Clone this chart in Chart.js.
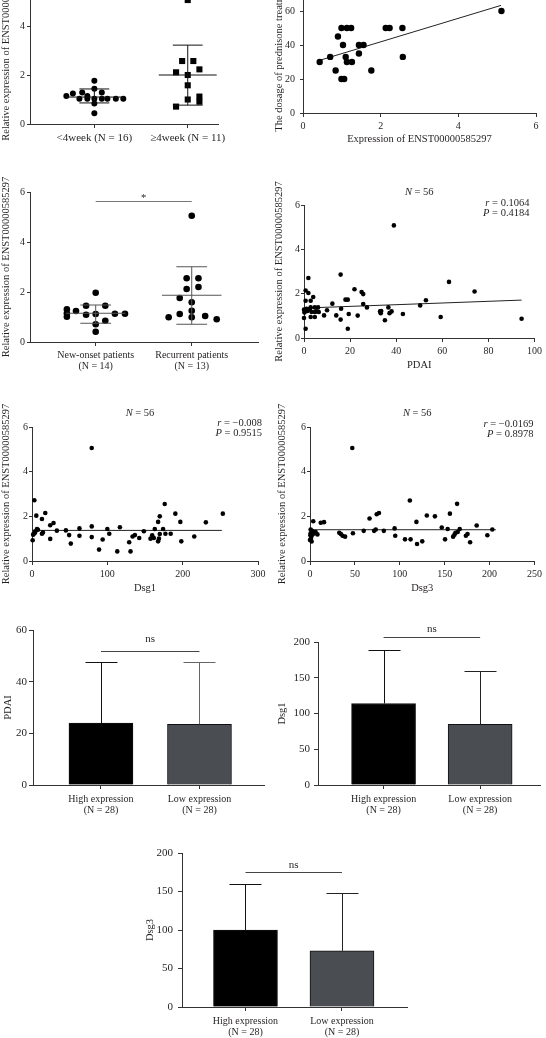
<!DOCTYPE html>
<html><head><meta charset="utf-8">
<script src="https://cdn.jsdelivr.net/npm/chart.js@4.4.1/dist/chart.umd.min.js"></script>
<style>
html,body{margin:0;padding:0;background:#fff;}
body{width:546px;height:1038px;position:relative;overflow:hidden;}
canvas{position:absolute;}
</style></head><body>
<canvas id="c1" width="273" height="185" style="left:0;top:-35px"></canvas>
<canvas id="c2" width="273" height="185" style="left:273px;top:-35px"></canvas>
<canvas id="c3" width="273" height="215" style="left:0;top:160px"></canvas>
<canvas id="c4" width="273" height="215" style="left:273px;top:160px"></canvas>
<canvas id="c5" width="273" height="225" style="left:0;top:375px"></canvas>
<canvas id="c6" width="273" height="225" style="left:273px;top:375px"></canvas>
<canvas id="c7" width="273" height="220" style="left:0;top:605px"></canvas>
<canvas id="c8" width="273" height="220" style="left:273px;top:605px"></canvas>
<canvas id="c9" width="280" height="208" style="left:140px;top:830px"></canvas>
<script>
// ---------------- DATA ----------------
const exprTitle = 'Relative expression of ENST00000585297';

// Panel 1: duration groups
const wkLabels = ['<4week (N = 16)', '\u22654week (N = 11)'];
const wkShortX = [1.0, 1.0, 0.87, 1.08, 0.77, 0.70, 0.925, 0.84, 0.925, 1.0, 1.08, 1.14, 1.23, 1.31, 1.0, 1.0];
const wkShortY = [1.77, 1.44, 1.29, 1.29, 1.25, 1.14, 1.14, 1.03, 1.03, 1.03, 1.03, 1.03, 1.03, 1.03, 0.84, 0.44];
const wkLongX = [2.0, 1.94, 2.06, 2.125, 1.875, 2.0, 2.0, 2.125, 2.0, 2.125, 1.875];
const wkLongY = [5.06, 2.57, 2.57, 2.23, 2.11, 2.0, 1.58, 1.12, 1.0, 0.91, 0.71];
const wkMean = [1.10, 2.00];
const wkHi = [1.43, 3.22];
const wkLo = [0.86, 0.77];

// Panel 2: prednisone dosage vs expression
const doseX = [0.43, 0.70, 0.84, 0.90, 0.99, 1.03, 0.99, 1.06, 1.13, 1.10, 1.13, 1.24, 1.26, 1.44, 1.44, 1.56, 1.76, 2.13, 2.23, 2.56, 2.57, 5.11];
const doseY = [30, 33, 25, 45, 50, 40, 20, 20, 50, 33, 30, 50, 30, 40, 35, 40, 25, 50, 50, 50, 33, 60];
const doseFitX = [0.43, 5.10];
const doseFitY = [31, 63.3];

// Panel 3: new-onset vs recurrent
const onsetLabels = [['New-onset patients', '(N = 14)'], ['Recurrent patients', '(N = 13)']];
const newX = [1.0, 0.90, 1.10, 0.70, 0.70, 0.70, 0.795, 0.90, 1.20, 1.305, 1.10, 1.0, 1.0, 1.0];
const newY = [1.97, 1.45, 1.45, 1.31, 1.15, 1.01, 1.24, 1.09, 1.13, 1.13, 0.85, 0.71, 0.41, 1.12];
const recX = [2.0, 1.947, 2.07, 1.947, 2.07, 1.875, 2.0, 2.0, 1.76, 1.875, 2.0, 2.14, 2.26];
const recY = [5.05, 2.55, 2.55, 2.12, 2.2, 1.76, 1.59, 1.25, 0.99, 1.12, 0.99, 1.04, 0.91];
const onsetMean = [1.15, 1.87];
const onsetHi = [1.48, 3.01];
const onsetLo = [0.75, 0.71];
const onsetSig = 5.64;

// Panel 4: PDAI
const pdaiX = [0,0,0.4,0.7,1.9,1.9,0.7,0.7,2.9,4,2.9,4.7,6.1,1.1,1.9,2.6,3.3,4.7,5.4,6.4,2.9,4.7,8.7,10,12.3,14,15.9,15.9,16.1,18,19,19,19.4,21.9,23.3,25,25.7,25.7,27.3,33,33.3,33.5,35.1,36.6,37.1,38,39,42.9,50.4,52.9,59.3,62.9,74,94.4,0.2,1.5];
const pdaiY = [1.28,0.9,1.2,2.14,2.03,2.71,1.68,0.42,1.68,1.85,1.38,1.38,1.38,1.32,1.28,1.32,1.17,1.17,1.2,1.17,0.95,0.95,1.02,1.25,1.55,1.02,0.83,2.86,1.32,1.73,1.73,0.42,1.08,2.2,1.01,2.07,1.98,1.53,1.38,1.2,1.12,1.22,0.8,1.38,1.12,1.2,5.08,1.08,1.47,1.7,0.95,2.53,2.1,0.87,1.15,1.22];
const pdaiFitX = [0, 94.4];
const pdaiFitY = [1.35, 1.71];
const pdaiStats = ['0.1064', '0.4184'];

// Panel 5: Dsg1
const dsg1X = [0.9,3.1,2.2,4.4,6.6,5.7,7.9,13.2,13.2,14.5,17.6,24.2,24.2,28.6,33,45,49.3,51.5,63,63,79.3,79.3,79.3,89,93.8,100,102.6,113.2,116.7,129,130.8,133.5,136.6,142.3,148.5,157.3,159.5,161.7,163,167.4,167.4,169.6,169.6,174,176.2,177.1,184.1,190.3,196.9,198.2,215.4,230.8,253.3,1.5,4.0,168.5];
const dsg1Y = [0.93,2.72,1.21,1.33,1.43,2.03,1.40,1.88,1.22,1.28,2.15,1.60,0.99,1.70,1.36,1.37,1.16,0.78,1.46,1.13,5.06,1.55,1.07,0.51,0.96,1.43,1.22,0.43,1.51,0.84,0.43,1.10,1.16,1.03,1.33,1.00,1.15,1.03,1.43,1.75,0.88,2.00,1.21,1.43,2.55,1.22,1.22,2.12,1.75,0.88,1.10,1.73,2.12,1.18,1.27,1.0];
const dsg1FitX = [0, 252];
const dsg1FitY = [1.37, 1.37];
const dsg1Stats = ['\u22120.008', '0.9515'];

// Panel 6: Dsg3
const dsg3X = [0,0.7,0.7,1.8,1.8,3.6,3.6,5.4,8.3,12,15.6,32.6,34.4,36.2,39.1,47.1,47.8,59.8,66.3,71.4,73.2,74.3,76.8,82.2,94.2,94.9,105.8,111.2,112,118.5,119.2,125,130.1,139.1,146.7,150.4,153.3,155.8,159.4,160.9,162,163.8,166.7,173.6,175.4,178.3,185.6,197.5,203,1.0,2.2,0.4,2.8,6.2,164.5,4.5];
const dsg3Y = [0.94,1.24,1.41,0.87,1.12,1.78,1.31,1.24,1.19,1.71,1.74,1.26,1.21,1.13,1.09,5.06,1.24,1.35,1.90,1.35,1.41,2.09,2.15,1.35,1.46,1.13,0.97,2.71,0.97,1.75,0.76,0.88,2.04,2.00,1.50,0.97,1.43,2.12,1.09,1.18,1.26,2.56,1.43,1.13,1.21,0.84,1.59,1.15,1.41,1.0,1.35,1.15,1.2,1.3,1.3,1.25];
const dsg3FitX = [0, 207];
const dsg3FitY = [1.40, 1.40];
const dsg3Stats = ['\u22120.0169', '0.8978'];

// Bar panels
const grpLabels = [['High expression', '(N = 28)'], ['Low expression', '(N = 28)']];
const barPdaiMean = [24.0, 23.5];
const barPdaiHi = [47.5, 47.5];
const barPdaiSig = 52;
const barDsg1Mean = [114, 85];
const barDsg1Hi = [189, 159];
const barDsg1Sig = 207;
const barDsg3Mean = [100, 73];
const barDsg3Hi = [160, 148];
const barDsg3Sig = 175;

// ---------------- RENDERING ----------------
const F = "'Liberation Serif','Times New Roman',serif";
const INK = '#231f20';
const AX = '#333333';
Chart.defaults.font.family = F;
Chart.defaults.font.size = 10;
Chart.defaults.color = INK;
Chart.defaults.animation = false;
Chart.defaults.plugins.legend.display = false;
Chart.defaults.plugins.tooltip.enabled = false;

const pts = (xs, ys) => xs.map((x, i) => ({x, y: ys[i]}));

function rich(ctx, parts, x, y, align) {
  let w = 0;
  parts.forEach(p => { ctx.font = p[1]; w += ctx.measureText(p[0]).width; });
  let cx = align === 'right' ? x - w : (align === 'center' ? x - w / 2 : x);
  ctx.textAlign = 'left'; ctx.textBaseline = 'middle';
  parts.forEach(p => { ctx.font = p[1]; ctx.fillText(p[0], cx, y); cx += ctx.measureText(p[0]).width; });
}

const overlay = {
  id: 'overlay',
  afterDatasetsDraw(chart, args, o) {
    const ctx = chart.ctx, ca = chart.chartArea, xs = chart.scales.x, ys = chart.scales.y;
    const px = v => xs.getPixelForValue(v), py = v => ys.getPixelForValue(v);
    ctx.save();
    ctx.lineWidth = 1;
    (o.summ || []).forEach(s => {
      ctx.strokeStyle = s.color;
      ctx.beginPath();
      ctx.moveTo(px(s.x - s.mw), py(s.mean)); ctx.lineTo(px(s.x + s.mw), py(s.mean));
      ctx.moveTo(px(s.x), py(s.lo)); ctx.lineTo(px(s.x), py(s.hi));
      ctx.moveTo(px(s.x - s.cw), py(s.lo)); ctx.lineTo(px(s.x + s.cw), py(s.lo));
      ctx.moveTo(px(s.x - s.cw), py(s.hi)); ctx.lineTo(px(s.x + s.cw), py(s.hi));
      ctx.stroke();
    });
    (o.err || []).forEach(e => {
      ctx.strokeStyle = e.color;
      const x = Math.round(px(e.x)) + 0.5, y0 = py(e.from), y1 = Math.round(py(e.to)) + 0.5;
      ctx.beginPath();
      ctx.moveTo(x, y0); ctx.lineTo(x, y1);
      ctx.moveTo(x - e.cap, y1); ctx.lineTo(x + e.cap, y1);
      ctx.stroke();
    });
    (o.sig || []).forEach(s => {
      ctx.strokeStyle = s.color;
      const y = Math.round(py(s.y)) + 0.5;
      ctx.beginPath(); ctx.moveTo(px(s.x1), y); ctx.lineTo(px(s.x2), y); ctx.stroke();
      ctx.fillStyle = INK; ctx.font = (s.size || 10.5) + 'px ' + F;
      ctx.textAlign = 'center'; ctx.textBaseline = 'middle';
      ctx.fillText(s.text, (px(s.x1) + px(s.x2)) / 2, y - s.dy);
    });
    ctx.fillStyle = INK;
    (o.notes || []).forEach(n => {
      const x = n.anchor === 'center' ? (ca.left + ca.right) / 2 + n.dx : ca.right + n.dx;
      rich(ctx, n.parts, x, ca.top + n.dy, n.anchor);
    });
    ctx.restore();
  }
};
Chart.register(overlay);

function yAxis(o) {
  return {
    type: 'linear', position: 'left', min: o.min, max: o.max,
    ticks: {stepSize: o.step, padding: o.pad ?? 2, color: INK, font: {size: o.fs ?? 10}},
    grid: {drawOnChartArea: false, drawTicks: true, tickLength: o.tl ?? 3, color: AX, lineWidth: 1},
    border: {display: true, color: AX, width: 1},
    title: {display: true, text: o.title, color: INK, font: {size: o.ts ?? 10.5}, padding: {top: o.tp ?? 0, bottom: 0}},
    afterFit(s) { s.width = o.w; }
  };
}
function xAxis(o) {
  const a = {
    type: 'linear', position: 'bottom', min: o.min, max: o.max, offset: false,
    ticks: {padding: o.pad ?? 4, color: INK, font: {size: o.fs ?? 10, lineHeight: 1.1}, autoSkip: false, maxRotation: 0, minRotation: 0},
    grid: {offset: false, drawOnChartArea: false, drawTicks: true, tickLength: o.tl ?? 4, color: AX, lineWidth: 1},
    border: {display: true, color: AX, width: 1},
    title: {display: !!o.title, text: o.title || '', color: INK, font: {size: 10.5}, padding: {top: 0, bottom: o.tpb ?? 4}},
    afterFit(s) { s.height = o.h; }
  };
  if (o.cats) {
    a.afterBuildTicks = s => { s.ticks = o.cats.map((c, i) => ({value: i + 1})); };
    a.ticks.callback = v => o.cats[Math.round(v) - 1];
  } else {
    a.ticks.stepSize = o.step;
  }
  return a;
}
const dots = (xs, ys, r, style) => ({data: pts(xs, ys), pointStyle: style || 'circle', pointRadius: r, backgroundColor: '#000', borderColor: '#000', borderWidth: 0, clip: false});
const fit = (xs, ys) => ({data: pts(xs, ys), showLine: true, pointRadius: 0, borderColor: '#222', borderWidth: 1, clip: false});
const summ = (means, his, los, color) => means.map((m, i) => ({x: i + 1, mean: m, hi: his[i], lo: los[i], mw: 0.31, cw: 0.16, color}));
const stats = (vals, dx, dy) => [
  {parts: [['r', 'italic 10.5px ' + F], [' = ' + vals[0], '10.5px ' + F]], anchor: 'right', dx, dy},
  {parts: [['P', 'italic 10.5px ' + F], [' = ' + vals[1], '10.5px ' + F]], anchor: 'right', dx, dy: dy + 10}
];
const nNote = (txt, dx, dy) => ({parts: [['N', 'italic 10.5px ' + F], [' = ' + txt, '10.5px ' + F]], anchor: 'center', dx, dy});

// Panel 1
new Chart(document.getElementById('c1'), {
  type: 'scatter',
  data: {datasets: [dots(wkShortX, wkShortY, 3), dots(wkLongX, wkLongY, 4.3, 'rect')]},
  options: {responsive: false, layout: {padding: {top: 12, right: 55, left: 0, bottom: 0}},
    scales: {x: xAxis({min: 0.311, max: 2.324, cats: wkLabels, h: 26, fs: 11}), y: yAxis({min: 0, max: 6, step: 2, title: exprTitle, w: 30})},
    plugins: {overlay: {summ: summ(wkMean, wkHi, wkLo, '#111')}}}
});

// Panel 2
new Chart(document.getElementById('c2'), {
  type: 'scatter',
  data: {datasets: [dots(doseX, doseY, 3.2), fit(doseFitX, doseFitY)]},
  options: {responsive: false, layout: {padding: {top: 12, right: 10, left: 0, bottom: 0}},
    scales: {x: xAxis({min: 0, max: 6, step: 2, title: 'Expression of ENST00000585297', h: 37, tpb: 4}),
      y: yAxis({min: 0, max: 80, step: 20, title: 'The dosage of prednisone treatment (mg)', w: 30, pad: 5})}}
});

// Panel 3
new Chart(document.getElementById('c3'), {
  type: 'scatter',
  data: {datasets: [dots(newX, newY, 3.3), dots(recX, recY, 3.3)]},
  options: {responsive: false, layout: {padding: {top: 32, right: 15, left: 0, bottom: 0}},
    scales: {x: xAxis({min: 0.316, max: 2.69, cats: onsetLabels, h: 33}), y: yAxis({min: 0, max: 6, step: 2, title: exprTitle, w: 30})},
    plugins: {overlay: {summ: summ(onsetMean, onsetHi, onsetLo, '#555'), sig: [{x1: 1, x2: 2, y: onsetSig, text: '*', dy: 3, color: '#777'}]}}}
});

// Panel 4
new Chart(document.getElementById('c4'), {
  type: 'scatter',
  data: {datasets: [dots(pdaiX, pdaiY, 2.3), fit(pdaiFitX, pdaiFitY)]},
  options: {responsive: false, layout: {padding: {top: 45, right: 9, left: 0, bottom: 0}},
    scales: {x: xAxis({min: 0, max: 100, step: 20, title: 'PDAI', h: 37, tpb: 3}), y: yAxis({min: 0, max: 6, step: 2, title: exprTitle, w: 31, pad: 1})},
    plugins: {overlay: {notes: [nNote('56', 0, -13), ...stats(pdaiStats, -5, -2)]}}}
});

// Panel 5
new Chart(document.getElementById('c5'), {
  type: 'scatter',
  data: {datasets: [dots(dsg1X, dsg1Y, 2.3), fit(dsg1FitX, dsg1FitY)]},
  options: {responsive: false, layout: {padding: {top: 52, right: 15, left: 0, bottom: 0}},
    scales: {x: xAxis({min: 0, max: 300, step: 100, title: 'Dsg1', h: 39, tpb: 5}), y: yAxis({min: 0, max: 6, step: 2, title: exprTitle, w: 32, pad: 1})},
    plugins: {overlay: {notes: [nNote('56', -5, -14), ...stats(dsg1Stats, 4, -4)]}}}
});

// Panel 6
new Chart(document.getElementById('c6'), {
  type: 'scatter',
  data: {datasets: [dots(dsg3X, dsg3Y, 2.3), fit(dsg3FitX, dsg3FitY)]},
  options: {responsive: false, layout: {padding: {top: 52, right: 9, left: 0, bottom: 0}},
    scales: {x: xAxis({min: 0, max: 250, step: 50, title: 'Dsg3', h: 39, tpb: 5}), y: yAxis({min: 0, max: 6, step: 2, title: exprTitle, w: 37, pad: 1, tp: 3})},
    plugins: {overlay: {notes: [nNote('56', -5, -14), ...stats(dsg3Stats, -1, -3)]}}}
});

// Bar panels
function barChart(id, means, his, sigY, sigDy, pad, xmin, xmax, xh, ymax, ystep, title, yw, ypad, tp, lowErr) {
  new Chart(document.getElementById(id), {
    type: 'bar',
    data: {datasets: [{data: pts([1, 2], means), backgroundColor: ['#000000', '#4a4d52'], borderColor: '#111', borderWidth: 1, barThickness: 64, borderSkipped: 'bottom'}]},
    options: {responsive: false, layout: {padding: pad},
      scales: {x: xAxis({min: xmin, max: xmax, cats: grpLabels, h: xh, pad: 5}),
        y: yAxis({min: 0, max: ymax, step: ystep, title, w: yw, tl: 4, pad: ypad, tp, ts: 10.5, fs: 11})},
      plugins: {overlay: {
        err: means.map((m, i) => ({x: i + 1, from: m, to: his[i], cap: 16, color: i === 0 ? '#111' : lowErr})),
        sig: [{x1: 1, x2: 2, y: sigY, text: 'ns', dy: sigDy, color: '#444', size: 11}]}}}
  });
}
barChart('c7', barPdaiMean, barPdaiHi, barPdaiSig, 12, {top: 25, right: 9, left: 0, bottom: 0}, 0.31, 2.655, 40, 60, 20, 'PDAI', 33, 2, 2, '#666');
barChart('c8', barDsg1Mean, barDsg1Hi, barDsg1Sig, 8, {top: 37, right: 6, left: 0, bottom: 0}, 0.321, 2.62, 40, 200, 50, 'Dsg1', 45, 4, 3, '#222');
barChart('c9', barDsg3Mean, barDsg3Hi, barDsg3Sig, 7, {top: 23, right: 13, left: 0, bottom: 0}, 0.342, 2.674, 31, 200, 50, 'Dsg3', 42, 5, 4, '#222');
</script>
</body></html>
